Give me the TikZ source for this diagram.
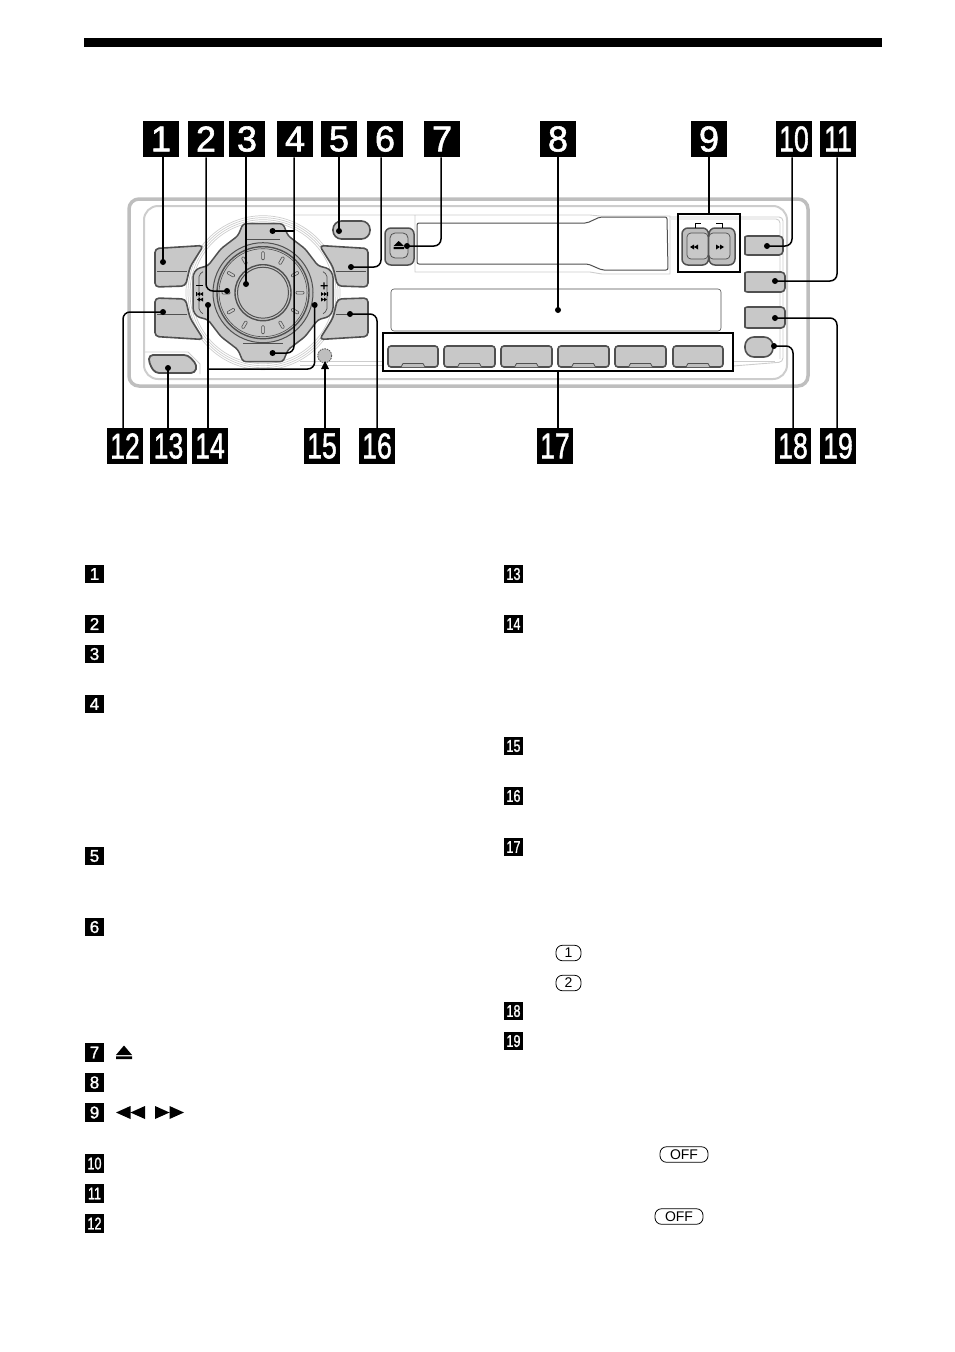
\documentclass[tikz,border=0pt]{standalone}
\usepackage{graphicx}
\usepackage{fontspec}
\setmainfont{Liberation Sans}
\newfontfamily\biglblfont[FakeBold=1.6]{Liberation Sans}
\newfontfamily\smalllblfont[FakeBold=1.4]{Liberation Sans}
\definecolor{btn}{HTML}{C8C8C8}
\definecolor{edge}{HTML}{505050}
\definecolor{faint}{HTML}{CDCDCD}
\definecolor{band}{HTML}{BEBEBE}
\newcommand{\dgt}[1]{\ifnum#1>9 \scalebox{.74}[1]{#1}\else #1\fi}
\tikzset{
  biglabel/.style={fill=black,text=white,minimum size=36.5,inner sep=0,outer sep=0,font=\biglblfont\fontsize{36}{36}\selectfont},
  smalllabel/.style={fill=black,text=white,minimum size=18.5,inner sep=0,outer sep=0,font=\smalllblfont\fontsize{17}{17}\selectfont},
  leaderdot/.style={circle,fill=black,minimum size=6,inner sep=0},
  leader/.style={draw=black,line width=1.5,rounded corners=7},
  knob/.style={fill=btn,draw=edge,line width=1.6,rounded corners=3},
  thinedge/.style={draw=edge,line width=.8},
  faintline/.style={draw=faint,line width=.9},
  pill/.style={draw=black,line width=.8,rounded corners=6.5,inner sep=0,minimum height=15.5,font=\fontsize{14}{14}\selectfont},
  framebox/.style={draw=black,line width=1.5}
}
\begin{document}
\begin{tikzpicture}[x=1pt,y=-1pt]
\useasboundingbox (0,0) rectangle (954,1352);
\fill[black] (84,38) rectangle (882,47);

% ---- faceplate
\draw[band,line width=3.5,rounded corners=10] (129,199) rectangle (808,386);
\draw[faint,line width=2,rounded corners=14] (144,206) rectangle (787,379);
\draw[faintline] (293,215) -- (415,215) -- (415,272) -- (590,272) -- (602,274) -- (670,274) -- (670,216) -- (600,216) -- (590,215) -- (415,215);
\draw[faintline,rounded corners=4] (670,217) -- (783,217) -- (783,362) -- (733,366);
\draw[faintline,rounded corners=4] (671,219) -- (780,219) -- (780,359);
\draw[faintline] (300,361) -- (383,361) (300,365) -- (383,365) (733,361) -- (775,361);
\draw[faintline] (143,352) -- (188,352) -- (200,364) -- (200,374);

% ---- wheel rings
\foreach \r in {71,73,75,77}{\draw[faintline,line width=.7] (263,292.7) circle[radius=\r];}

% ---- corner buttons
\newcommand{\cornerkey}{
  \draw[knob,rounded corners=4] (155,248.5) -- (203.5,245.5) -- (190,267) -- (185.5,286) -- (155,287) -- cycle;
  \draw[thinedge] (157,271) -- (187,271);
}
\begin{scope}\cornerkey\end{scope}
\begin{scope}[shift={(0,585)},yscale=-1]\cornerkey\end{scope}
\begin{scope}[shift={(523,0)},xscale=-1]\cornerkey\end{scope}
\begin{scope}[shift={(523,585)},xscale=-1,yscale=-1]\cornerkey\end{scope}

% ---- cross and dial
\begin{scope}[shift={(263,292.7)}]
  \draw[fill=btn,draw=edge,line width=1.5,rounded corners=3]
    (-20,-69) -- (20,-69) -- (25,-57) -- (42,-44) -- (55,-27) -- (66,-24) -- (70,-18) -- (70,18) -- (66,24) -- (55,27) -- (42,44) -- (25,57) -- (20,69) -- (-20,69) -- (-25,57) -- (-42,44) -- (-55,27) -- (-66,24) -- (-70,18) -- (-70,-18) -- (-66,-24) -- (-55,-27) -- (-42,-44) -- (-25,-57) -- cycle;
  \draw[draw=edge,line width=.7,rounded corners=2] (-60,-21) -- (-64,-18) -- (-64,18) -- (-60,21);
  \draw[draw=edge,line width=.7,rounded corners=2] (60,-21) -- (64,-18) -- (64,18) -- (60,21);
  \draw[draw=edge,line width=.7] (-20,51) -- (20,51);
  \draw[draw=edge,line width=.7] (-17,-53) -- (17,-53);
  \draw[fill=band,draw=edge,line width=1] (0,0) circle[radius=50];
  \draw[fill=btn,draw=edge,line width=1.4] (0,0) circle[radius=46];
  \draw[edge,line width=.6] (0,0) circle[radius=44];
  \foreach \a in {0,30,...,330}{
    \begin{scope}[rotate=\a]
      \draw[fill=btn,draw=edge,line width=.6,rounded corners=1] (-1.4,-41) rectangle (1.4,-33);
    \end{scope}
  }
  \draw[fill=btn,draw=edge,line width=1.4] (0,0) circle[radius=28];
  \draw[edge,line width=1] (0,0) circle[radius=25.5];
\end{scope}

% ---- skip and seek marks beside the dial
\fill[black] (196,284.6) rectangle (203,285.8);
\fill[black] (196,292) rectangle (197,296) (197,294)--(200,292)--(200,296)--cycle (200,294)--(203,292)--(203,296)--cycle;
\fill[black] (197,299.5)--(200,297.5)--(200,301.5)--cycle (200,299.5)--(203,297.5)--(203,301.5)--cycle;
\fill[black] (320.5,285.2) rectangle (327.5,286.4) (323.4,282.3) rectangle (324.6,289.3);
\fill[black] (327,292) rectangle (328,296) (321,292)--(324,294)--(321,296)--cycle (324,292)--(327,294)--(324,296)--cycle;
\fill[black] (321,297.5)--(324,299.5)--(321,301.5)--cycle (324,297.5)--(327,299.5)--(324,301.5)--cycle;

% ---- mic dot
\draw[fill=band,draw=edge,line width=.8,dash pattern=on 1.5pt off 1pt] (324.7,355.7) circle[radius=7];

% ---- other keys
\draw[knob,rounded corners=8.5] (333,221) rectangle (370,239);
\draw[fill=btn,draw=edge,line width=1.8,rounded corners=4] (149,355) -- (188,355) -- (197,365) -- (195,373) -- (155,373) -- (149,363) -- cycle;

% ---- eject key
\draw[fill=band,draw=edge,line width=1.5,rounded corners=6] (385,228) rectangle (414,265);
\draw[fill=btn,draw=edge,line width=.8,rounded corners=5] (390,233) rectangle (408,258);
\fill[black] (393.5,246)--(398.7,241)--(404,246)--cycle (393.5,247.2) rectangle (404,249);

% ---- tape slot and display
\draw[edge,line width=1,rounded corners=2] (417,223) -- (587,223) -- (600,217) -- (667,217) -- (668,270) -- (602,270) -- (588,264) -- (417,264) -- cycle;
\draw[edge,line width=.6,rounded corners=3] (391,289) rectangle (721,331);

% ---- seek pair
\draw[fill=band,draw=edge,line width=1.5,rounded corners=6] (682,228) rectangle (708.5,265);
\draw[fill=band,draw=edge,line width=1.5,rounded corners=6] (709,228) rectangle (735,265);
\draw[fill=btn,draw=edge,line width=.7,rounded corners=4] (687,233) rectangle (708,259);
\draw[fill=btn,draw=edge,line width=.7,rounded corners=4] (709,233) rectangle (730,259);
\fill[black] (690,247)--(694,244.5)--(694,249.5)--cycle (694,247)--(698,244.5)--(698,249.5)--cycle;
\fill[black] (716,244.5)--(720,247)--(716,249.5)--cycle (720,244.5)--(724,247)--(720,249.5)--cycle;
\draw[black,line width=.9] (695,228) -- (695,223.5) -- (701,223.5) (716,223.5) -- (722,223.5) -- (722,228);

% ---- right column keys
\draw[knob,rounded corners=4] (745,241) .. controls (745,236) and (748,236) .. (752,236) -- (783,236) -- (783,255) -- (752,255) .. controls (748,255) and (745,255) .. (745,250) -- cycle;
\draw[knob,rounded corners=4] (745,277) .. controls (745,272) and (748,272) .. (752,272) -- (785,272) -- (785,292) -- (752,292) .. controls (748,292) and (745,292) .. (745,287) -- cycle;
\draw[knob,rounded corners=4] (745,312) .. controls (745,307) and (748,307) .. (752,307) -- (785,307) -- (785,328) -- (752,328) .. controls (748,328) and (745,328) .. (745,323) -- cycle;
\draw[knob,rounded corners=9] (745,337) rectangle (773,357);

% ---- preset keys
\foreach \xa/\xb in {388/438,444/495,501/552,558/609,615/666,673/723}{
  \draw[knob] (\xa,346) rectangle (\xb,367);
  \draw[thinedge,fill=band] ({(\xa+\xb)/2-12},367) -- ({(\xa+\xb)/2-10},363.5) -- ({(\xa+\xb)/2+10},363.5) -- ({(\xa+\xb)/2+12},367);
}

% ---- bracket frames
\node[framebox,minimum width=62,minimum height=58,inner sep=0] (seekframe) at (709,243) {};
\node[framebox,minimum width=350,minimum height=38,inner sep=0] (presetframe) at (558,352) {};

% ---- callout labels
\foreach \n/\x in {1/161,2/206,3/247,4/295,5/339,6/385,7/442,8/558,9/709,10/794,11/838}{
  \node[biglabel] (t\n) at (\x,139) {\dgt{\n}};
}
\foreach \n/\x in {12/125,13/168.5,14/210,15/322,16/377,17/555,18/793,19/838}{
  \node[biglabel] (t\n) at (\x,446) {\dgt{\n}};
}

% ---- leader targets
\foreach \n/\x/\y in {1/163/262,2/227/291,3/246/284,4/272.6/353,4b/272.6/231,5/339/231,6/351/267,7/407/246,8/558/310,10/767/246,11/775/281,12/163/312,13/168/368,14/208/305,14b/314.7/305,16/350/314,18/774/346,19/775/318}{
  \node[leaderdot] (d\n) at (\x,\y) {};
}
\coordinate (e2) at (206,291);
\coordinate (e4) at (294,353);
\coordinate (j4) at (294,231);
\coordinate (e6) at (381,267);
\coordinate (e7) at (441,246);
\coordinate (e10) at (792,246);
\coordinate (e11) at (837,281);
\coordinate (e12) at (123,312);
\coordinate (j14) at (208,369);
\coordinate (e14) at (314.7,369);
\coordinate (e16) at (377,314);
\coordinate (e18) at (793,346);
\coordinate (e19) at (837,318);
\coordinate (h15) at (325,361);

% ---- connectors
\draw[leader] (t1.south -| d1) -- (d1.center);
\draw[leader] (t2.south -| e2) -- (e2) -- (d2.center);
\draw[leader] (t3.south -| d3) -- (d3.center);
\draw[leader] (t4.south -| e4) -- (e4) -- (d4.center);
\draw[leader] (j4) -- (d4b.center);
\draw[leader] (t5.south -| d5) -- (d5.center);
\draw[leader] (t6.south -| e6) -- (e6) -- (d6.center);
\draw[leader] (t7.south -| e7) -- (e7) -- (d7.center);
\draw[leader] (t8.south -| d8) -- (d8.center);
\draw[leader] (t9.south) -- (seekframe.north);
\draw[leader] (t10.south -| e10) -- (e10) -- (d10.center);
\draw[leader] (t11.south -| e11) -- (e11) -- (d11.center);
\draw[leader] (t12.north -| e12) -- (e12) -- (d12.center);
\draw[leader] (t13.north -| d13) -- (d13.center);
\draw[leader] (t14.north -| d14) -- (d14.center);
\draw[leader] (j14) -- (e14) -- (d14b.center);
\draw[leader] (t16.north -| e16) -- (e16) -- (d16.center);
\draw[leader] (t17.north -| presetframe.south) -- (presetframe.south);
\draw[leader] (t18.north -| e18) -- (e18) -- (d18.center);
\draw[leader] (t19.north -| e19) -- (e19) -- (d19.center);
\draw[leader] (t15.north -| h15) -- ([yshift=-5pt]h15);
\fill[black] (h15) -- (321,369) -- (329,369) -- cycle;

% ---- key list, left column
\foreach \n/\y in {1/574,2/624,3/654,4/704,5/856,6/927,7/1052.5,8/1082.5,9/1112.5,10/1163.5,11/1193.5,12/1223.5}{
  \node[smalllabel] (k\n) at (94.5,\y) {\dgt{\n}};
}
% ---- key list, right column
\foreach \n/\y in {13/574,14/624,15/746,16/796,17/847,18/1011,19/1041}{
  \node[smalllabel] (k\n) at (513.5,\y) {\dgt{\n}};
}
\fill[black] (116,1055)--(124,1045.5)--(132,1055)--cycle (116,1056.3) rectangle (132,1059);
\fill[black] (116,1112.5)--(130.5,1106)--(130.5,1119)--cycle (130.5,1112.5)--(145,1106)--(145,1119)--cycle;
\fill[black] (155,1106)--(169.5,1112.5)--(155,1119)--cycle (169.5,1106)--(184,1112.5)--(169.5,1119)--cycle;

\node[pill,minimum width=25] (one) at (568.5,953) {1};
\node[pill,minimum width=25] (two) at (568.5,983) {2};
\node[pill,minimum width=48] (offa) at (684,1154.5) {OFF};
\node[pill,minimum width=48] (offb) at (679,1216.5) {OFF};
\end{tikzpicture}
\end{document}
